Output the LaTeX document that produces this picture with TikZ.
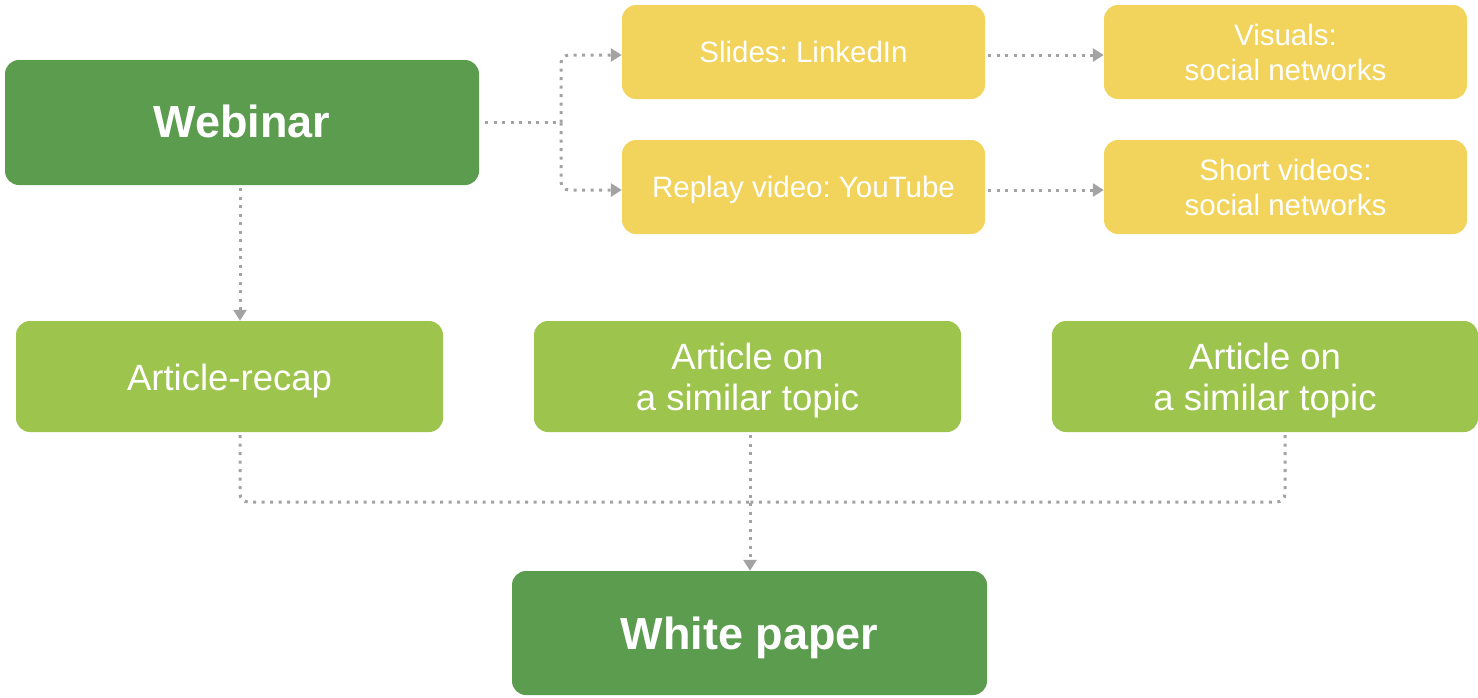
\documentclass[tikz,border=0pt]{standalone}
\usepackage{fontspec}
\setmainfont{Liberation Sans}
\frenchspacing
\usetikzlibrary{arrows.meta}
\definecolor{darkgreen}{HTML}{5B9C4E}
\definecolor{lightgreen}{HTML}{9DC44C}
\definecolor{sunyellow}{HTML}{F2D45C}
\definecolor{dotgray}{HTML}{A3A3A3}
\tikzset{
  box/.style={rounded corners=14pt, inner sep=0pt, text=white, align=center, text depth=0pt},
  mainbox/.style={box, fill=darkgreen, minimum width=#1, minimum height=125pt,
    font=\fontsize{45}{50}\selectfont\bfseries, text height=29pt},
  articlebox/.style={box, fill=lightgreen, minimum width=427pt, minimum height=111pt,
    font=\fontsize{36.5}{41}\selectfont},
  channelbox/.style={box, fill=sunyellow, minimum width=363pt, minimum height=94pt,
    font=\fontsize{29.5}{35}\selectfont},
  oneline/.style={text height=#1},
  flow/.style={draw=dotgray, line width=3pt, dash pattern=on 3pt off 5.5pt,
    rounded corners=8pt},
  tip/.style={flow, -{Triangle[length=11pt,width=13pt]}},
}
\begin{document}
\begin{tikzpicture}[x=1pt,y=-1pt]
  \useasboundingbox (0,0) rectangle (1478,697);

  % boxes
  \node[mainbox=474pt] (webinar) at (242,122.5) {Webinar};
  \node[channelbox, oneline=21pt] (slides)  at (803.5,52)  {Slides: LinkedIn};
  \node[channelbox, oneline=56pt] (visuals) at (1285.5,52) {Visuals:\\social networks};
  \node[channelbox, oneline=21pt] (replay)  at (803.5,187) {Replay video: YouTube};
  \node[channelbox, oneline=56pt] (shorts)  at (1285.5,187) {Short videos:\\social networks};

  \node[articlebox, oneline=28pt] (recap) at (229.5,376.5) {Article-recap};
  \node[articlebox, oneline=67pt] (artA)  at (747.5,376.5) {Article on\\a similar topic};
  \node[articlebox, oneline=67pt, minimum width=426pt] (artB) at (1265,376.5) {Article on\\a similar topic};

  \node[mainbox=475pt, minimum height=124pt, text height=33pt] (paper) at (749.5,633) {White paper};

  % branching from the webinar to the channels
  \coordinate (split) at (561,122.5);
  \draw[flow] ([xshift=6pt]webinar.east) -- (split);
  \draw[tip] (split) |- ([yshift=-3pt]slides.west);
  \draw[tip] (split) |- ([yshift=-3pt]replay.west);
  \draw[tip] ([xshift=3pt,yshift=-3pt]slides.east) -- ([yshift=-3pt]visuals.west);
  \draw[tip] ([xshift=3pt,yshift=-3pt]replay.east) -- ([yshift=-3pt]shorts.west);

  % webinar down to the recap article
  \draw[tip] ([xshift=-2pt,yshift=-3pt]webinar.south) -- ([xshift=-2pt]webinar.south |- recap.north);

  % articles merging into the white paper
  \coordinate (join) at (750,502);
  \draw[flow] ([xshift=10.5pt,yshift=-3pt]recap.south) |- (join);
  \draw[flow] ([xshift=20pt,yshift=-3pt]artB.south) |- (join);
  \draw[tip] ([xshift=2.5pt,yshift=-3pt]artA.south) -- ([xshift=2.5pt]artA.south |- paper.north);
\end{tikzpicture}
\end{document}
